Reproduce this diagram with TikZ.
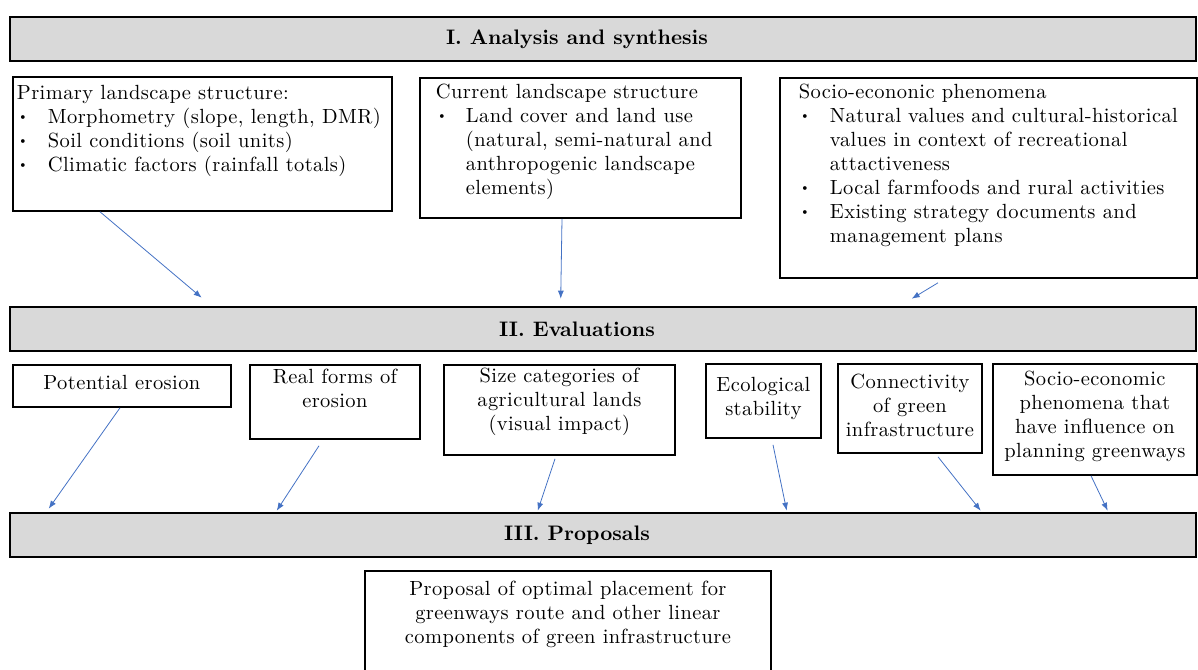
\documentclass[tikz,border=0pt]{standalone}
\usepackage{fontspec}
\newfontfamily\boxfont{lmroman10-regular.otf}[LetterSpace=2]
\newfontfamily\barfont{lmroman10-bold.otf}
\newcommand{\itemdot}[1]{\makebox[#1][l]{\hspace*{1pt}\raisebox{2.5pt}{\fontsize{13}{13}\selectfont\textbullet}}}
\usetikzlibrary{arrows.meta,calc}
\definecolor{bargray}{HTML}{D9D9D9}
\definecolor{arrblue}{HTML}{4472C4}
\tikzset{
  bar/.style={draw,line width=2.6pt,fill=bargray,minimum width=1186pt,minimum height=44pt,inner sep=0pt},
  title/.style={font=\barfont\fontsize{21}{24}\selectfont,xshift=-26pt},
  box/.style n args={3}{draw,line width=1.8pt,anchor=north west,inner sep=0pt,
    execute at begin node={\begin{minipage}[t][#2][t]{#1}\vspace*{#3}},
    execute at end node={\end{minipage}}},
  lbox/.style n args={3}{box={#1}{#2}{#3},execute at begin node={\raggedright}},
  cbox/.style n args={3}{box={#1}{#2}{#3},execute at begin node={\centering}},
  arr/.style={-{Latex[length=8pt,width=6pt]},draw=arrblue,line width=0.8pt}
}
\begin{document}
\begin{tikzpicture}[x=1pt,y=-1pt,every node/.style={font=\boxfont\fontsize{20.5}{24}\selectfont}]
\useasboundingbox (0,0) rectangle (1198,669);
\clip (0,0) rectangle (1198,669);
% stage bars
\node[bar,label={[title,name=t1]center:I. Analysis and synthesis}] (bar1) at (603,39) {};
\node[bar,label={[title,name=t2]center:II. Evaluations}] (bar2) at (603,329) {};
\node[bar,label={[title,name=t3]center:III. Proposals}] (bar3) at (603,535) {};
% analysis boxes
\node[lbox={371pt}{134pt}{8pt},inner xsep=4pt] (prim) at (12,76) {Primary landscape structure:\\
\itemdot{31pt}Morphometry (slope, length, DMR)\\
\itemdot{31pt}Soil conditions (soil units)\\
\itemdot{31pt}Climatic factors (rainfall totals)};
\node[lbox={289pt}{140pt}{6pt},inner xsep=16pt] (curr) at (419,77) {Current landscape structure\\
\itemdot{30pt}Land cover and land use\\
\hspace*{30pt}(natural, semi-natural and\\
\hspace*{30pt}anthropogenic landscape\\
\hspace*{30pt}elements)};
\node[lbox={379pt}{200pt}{6pt},inner xsep=19pt] (socio) at (779,77) {Socio-econonic phenomena\\
\itemdot{31pt}Natural values and cultural-historical\\
\hspace*{31pt}values in context of recreational\\
\hspace*{31pt}attactiveness\\
\itemdot{31pt}Local farmfoods and rural activities\\
\itemdot{31pt}Existing strategy documents and\\
\hspace*{31pt}management plans};
\draw[arr] ($(prim.south west)+(88,0)$) -- ($(bar2.north west)+(193,-8)$);
\draw[arr] ($(curr.south west)+(143,0)$) -- ($(bar2.north west)+(552,-7)$);
\draw[arr] ($(socio.south west)+(159,4)$) -- ($(bar2.north west)+(903,-7)$);
% evaluation boxes
\node[cbox={218pt}{42pt}{10pt}] (pot) at (12,364) {Potential erosion};
\node[cbox={170pt}{74pt}{4pt}] (real) at (249,364) {Real forms of\\erosion};
\node[cbox={231pt}{90pt}{3pt}] (size) at (443,364) {Size categories of\\agricultural lands\\(visual impact)};
\node[cbox={115pt}{74pt}{13pt}] (eco) at (705,363) {Ecological\\stability};
\node[cbox={144pt}{89pt}{10pt}] (conn) at (837,363) {Connectivity\\of green\\infrastructure};
\node[cbox={204pt}{111pt}{7pt}] (socev) at (992,363) {Socio-economic\\phenomena that\\have influence on\\planning greenways};
\draw[arr] ($(pot.south west)+(108,0)$) -- ($(bar3.north west)+(40,-3)$);
\draw[arr] ($(real.south west)+(70,6)$) -- ($(bar3.north west)+(268,-1)$);
\draw[arr] ($(size.south west)+(112,3)$) -- ($(bar3.north west)+(529,-1)$);
\draw[arr] ($(eco.south west)+(68,6)$) -- ($(bar3.north west)+(778,-1)$);
\draw[arr] ($(conn.south west)+(101,3)$) -- ($(bar3.north west)+(972,-1)$);
\draw[arr] ($(socev.south west)+(99,0)$) -- ($(bar3.north west)+(1099,-1)$);
% proposal
\node[cbox={406pt}{120pt}{10pt}] (prop) at (364,570) {Proposal of optimal placement for\\greenways route and other linear\\components of green infrastructure};
\end{tikzpicture}
\end{document}
